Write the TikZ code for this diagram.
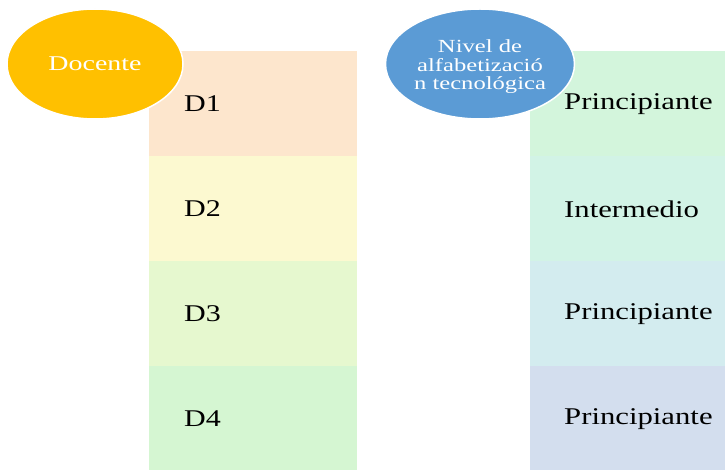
\documentclass[tikz,border=0pt]{standalone}
\usepackage{fontspec}
\usepackage{graphicx}
\setmainfont{Liberation Serif}
\usetikzlibrary{shapes.geometric}
\definecolor{cD1}{HTML}{FDE6CD}
\definecolor{cD2}{HTML}{FCF9D0}
\definecolor{cD3}{HTML}{E6F8CF}
\definecolor{cD4}{HTML}{D5F6D2}
\definecolor{cR1}{HTML}{D3F5DC}
\definecolor{cR2}{HTML}{D2F3E6}
\definecolor{cR3}{HTML}{D3ECEF}
\definecolor{cR4}{HTML}{D3DEEE}
\definecolor{corange}{HTML}{FFC000}
\definecolor{cblue}{HTML}{5B9BD5}
\tikzset{
  cell/.style={rectangle, draw=none, inner sep=0pt, anchor=north west},
  lcell/.style={cell, minimum width=208pt, minimum height=105pt},
  rcell/.style={cell, minimum width=195pt, minimum height=105pt},
  celltext/.style={anchor=west, inner sep=0pt, font=\fontsize{24}{24}\selectfont, text=black},
  oval/.style={ellipse, draw=white, line width=1.5pt, inner sep=0pt, text=white}
}
\newcommand{\wide}[2]{\scalebox{#1}[1]{#2}}
\begin{document}
\begin{tikzpicture}[x=1pt, y=-1pt]
\useasboundingbox (0,0) rectangle (725,470);
% left column
\node[lcell, fill=cD1] (d1) at (149,51) {};
\node[lcell, fill=cD2] (d2) at (149,156) {};
\node[lcell, fill=cD3] (d3) at (149,261) {};
\node[lcell, fill=cD4] (d4) at (149,366) {};
% right column
\node[rcell, fill=cR1] (r1) at (530,51) {};
\node[rcell, fill=cR2] (r2) at (530,156) {};
\node[rcell, fill=cR3] (r3) at (530,261) {};
\node[rcell, fill=cR4] (r4) at (530,366) {};
% labels
\node[celltext] (t1) at (184,104) {\wide{1.25}{D1}};
\node[celltext] (t2) at (184,209) {\wide{1.25}{D2}};
\node[celltext] (t3) at (184,314) {\wide{1.25}{D3}};
\node[celltext] (t4) at (184,419) {\wide{1.25}{D4}};
\node[celltext] (u1) at (564,104) {\wide{1.28}{Principiante}};
\node[celltext] (u2) at (564,209) {\wide{1.28}{Intermedio}};
\node[celltext] (u3) at (564,314) {\wide{1.28}{Principiante}};
\node[celltext] (u4) at (564,419) {\wide{1.28}{Principiante}};
% ellipses
\node[oval, fill=corange, minimum width=176pt, minimum height=110pt] (doc) at (95,64) {};
\node[text=white, inner sep=0pt, font=\fontsize{21}{21}\selectfont] (doct) at (95,64) {\wide{1.33}{Docente}};
\node[oval, fill=cblue, minimum width=189pt, minimum height=110pt] (niv) at (480,64) {};
\node[text=white, inner sep=0pt, align=center, font=\fontsize{18.5}{18.5}\selectfont] (nivt) at (480,67)
  {\wide{1.33}{Nivel de}\\\wide{1.33}{alfabetizació}\\\wide{1.33}{n tecnológica}};
\end{tikzpicture}
\end{document}
